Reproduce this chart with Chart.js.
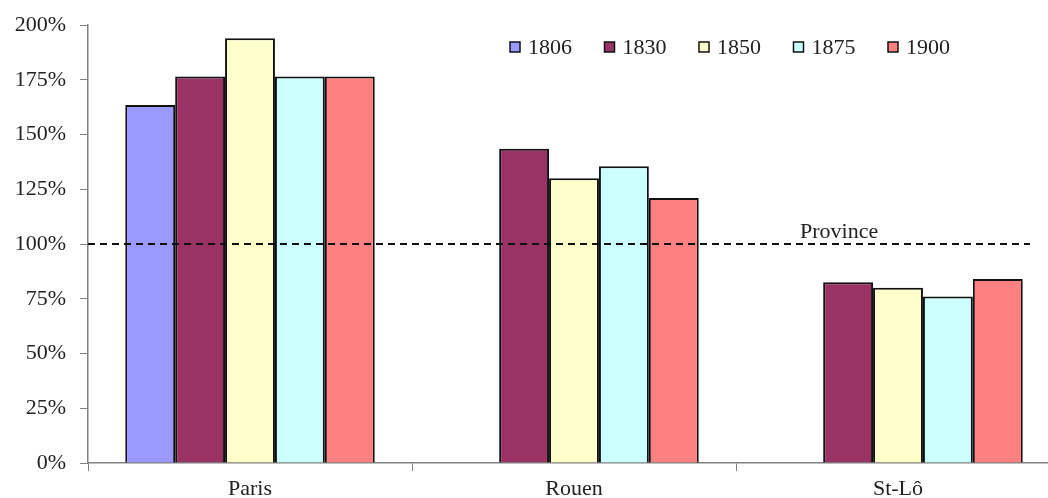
<!DOCTYPE html>
<html>
<head>
<meta charset="utf-8">
<script src="https://cdn.jsdelivr.net/npm/chart.js@4/dist/chart.umd.min.js"></script>
<style>
  html, body { margin: 0; padding: 0; background: #fff; overflow: hidden; }
  #wrap { width: 1060px; height: 498px; }
</style>
</head>
<body>
<div id="wrap"><canvas id="chart-towns"></canvas></div>
<script>
/************/
/*** DATA ***/
/************/

const towns = ['Paris', 'Rouen', 'St-Lô'];
const years = ['1806', '1830', '1850', '1875', '1900'];
// Values in % of the province level (null = no data):
const values1806 = [163.5, null, null];
const values1830 = [176.5, 143.5, 82.5];
const values1850 = [194, 130, 80];
const values1875 = [176.5, 135.5, 76];
const values1900 = [176.5, 121, 84];
const provinceLevel = 100;
const provinceLabel = 'Province';
const yTicks = [0, 25, 50, 75, 100, 125, 150, 175, 200];

const yearColors = ['#9999FF', '#993366', '#FFFFCC', '#CCFFFF', '#FF8080'];
const FONT = '"Liberation Serif", "DejaVu Serif", serif';

/****************/
/*** PLUGINS ***/
/****************/

// Dashed reference line at the province level:
const provinceLine = {
  id: 'provinceLine',
  afterDatasetsDraw(chart) {
    const {ctx, chartArea, scales} = chart;
    const y = scales.y.getPixelForValue(provinceLevel);
    ctx.save();
    ctx.strokeStyle = '#111';
    ctx.lineWidth = 2;
    ctx.setLineDash([7, 5]);
    ctx.beginPath();
    ctx.moveTo(chartArea.left, y);
    ctx.lineTo(chartArea.right - 30, y);
    ctx.stroke();
    ctx.setLineDash([]);
    ctx.fillStyle = '#222';
    ctx.font = '22px ' + FONT;
    ctx.textBaseline = 'alphabetic';
    ctx.fillText(provinceLabel, scales.x.getPixelForValue(2) - 98, y - 6);
    ctx.restore();
  }
};

// Legend drawn inside the plot, top right:
const boxLegend = {
  id: 'boxLegend',
  afterDraw(chart) {
    const {ctx} = chart;
    ctx.save();
    ctx.font = '22px ' + FONT;
    ctx.textBaseline = 'middle';
    chart.data.datasets.forEach((ds, i) => {
      const x = 510 + i * 94.5;
      ctx.fillStyle = ds.backgroundColor;
      ctx.fillRect(x, 42, 10, 10);
      ctx.strokeStyle = '#111';
      ctx.lineWidth = 1.5;
      ctx.strokeRect(x, 42, 10, 10);
      ctx.fillStyle = '#222';
      ctx.fillText(ds.label, x + 18, 48);
    });
    ctx.restore();
  }
};

/****************/
/*** Plotting ***/
/****************/

function genDataset(label, data, color) {
  return {label: label, data: data, backgroundColor: color,
          borderColor: '#111', borderWidth: 2,
          barPercentage: 1.0, categoryPercentage: 0.77};
}

function genChart() {
  const series = [values1806, values1830, values1850, values1875, values1900];
  const ctx = document.getElementById('chart-towns');
  return new Chart(ctx, {
    type: 'bar',
    data: {
      labels: towns,
      datasets: years.map((y, i) => genDataset(y, series[i], yearColors[i]))
    },
    options: {
      responsive: true,
      maintainAspectRatio: false,
      animation: false,
      layout: {padding: {top: 25, right: 0, left: 0, bottom: 0}},
      plugins: {legend: {display: false}, tooltip: {enabled: false}},
      scales: {
        x: {
          grid: {display: true, drawOnChartArea: false, offset: true,
                 tickLength: 8, color: '#808080'},
          border: {color: '#808080', width: 1.5},
          ticks: {color: '#222', font: {family: FONT, size: 22}, padding: 5},
          afterFit(scale) { scale.height = 35; }
        },
        y: {
          min: 0, max: 200,
          afterBuildTicks(scale) { scale.ticks = yTicks.map(v => ({value: v})); },
          grid: {display: true, drawOnChartArea: false, tickLength: 8, color: '#808080'},
          border: {color: '#808080', width: 1.5},
          ticks: {color: '#222', font: {family: FONT, size: 22}, padding: 14,
                  callback: v => v + '%'},
          afterFit(scale) { scale.width = 88; scale.paddingTop = 0; scale.paddingBottom = 0; }
        }
      }
    },
    plugins: [provinceLine, boxLegend]
  });
}

/************/
/*** INIT ***/
/************/

let chart = genChart();
</script>
</body>
</html>
